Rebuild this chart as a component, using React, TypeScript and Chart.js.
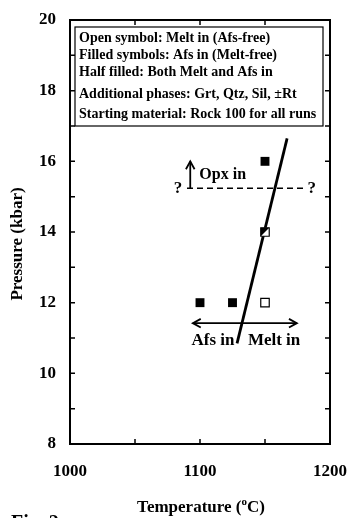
import React, { useEffect, useRef } from "react";
import { Chart, registerables } from "chart.js";

Chart.register(...registerables);

// ---- data ----
const xMin = 1000;
const xMax = 1200;
const yMin = 8;
const yMax = 20;
const xTickStep = 100;
const yTickStep = 2;
const xInnerTicks = [1050, 1100, 1150];
const yInnerTicks = [9, 10, 11, 12, 13, 14, 15, 16, 17, 18, 19];

// Filled symbols: Afs in (Melt-free)
const afsT = [1100, 1125, 1150];
const afsP = [12, 12, 16];
// Open symbol: Melt in (Afs-free)
const meltT = [1150];
const meltP = [12];
// Half filled: both
const bothT = [1150];
const bothP = [14];

// Afs-out / melt-in boundary
const boundaryT = [1128.5, 1167];
const boundaryP = [10.85, 16.65];
// Opx-in (dashed)
const opxT = [1090, 1181];
const opxP = [15.24, 15.24];
// Opx arrow (vertical)
const opxArrowT = [1092.5, 1092.5];
const opxArrowP = [15.24, 16.0];
// Afs / Melt double arrow
const fieldArrowT = [1094.5, 1174.5];
const fieldArrowP = [11.42, 11.42];

const legendLines = [
  "Open symbol: Melt in (Afs-free)",
  "Filled symbols: Afs in (Melt-free)",
  "Half filled: Both Melt and Afs in",
  "Additional phases: Grt, Qtz, Sil, \u00b1Rt",
  "Starting material: Rock 100 for all runs",
];

const labelTexts = ["Opx in", "Afs in", "Melt in", "?", "?"];
const labelT = [1099.5, 1110, 1157, 1083, 1186];
const labelP = [15.61, 10.92, 10.92, 15.22, 15.22];
const labelAlign: CanvasTextAlign[] = ["left", "center", "center", "center", "center"];

const FONT = "'Liberation Serif', 'Times New Roman', serif";

function pts(xs: number[], ys: number[]) {
  return xs.map((x, i) => ({ x, y: ys[i] }));
}

export default function App() {
  const ref = useRef<HTMLCanvasElement | null>(null);

  useEffect(() => {
    const canvas = ref.current;
    if (!canvas) return;

    const decor = {
      id: "decor",
      afterDatasetsDraw(chart: any) {
        const ctx = chart.ctx as CanvasRenderingContext2D;
        const xs = chart.scales.x;
        const ys = chart.scales.y;
        // half-filled symbol
        const meta = chart.getDatasetMeta(2);
        meta.data.forEach((el: any) => {
          const s = 6 * Math.SQRT1_2;
          ctx.save();
          ctx.fillStyle = "#000";
          ctx.beginPath();
          ctx.moveTo(el.x - s, el.y - s);
          ctx.lineTo(el.x + s, el.y - s);
          ctx.lineTo(el.x - s, el.y + s);
          ctx.closePath();
          ctx.fill();
          ctx.restore();
        });

        const arrowHead = (x: number, y: number, ang: number) => {
          const L = 9;
          const a = 0.5;
          ctx.beginPath();
          ctx.moveTo(x - L * Math.cos(ang - a), y - L * Math.sin(ang - a));
          ctx.lineTo(x, y);
          ctx.lineTo(x - L * Math.cos(ang + a), y - L * Math.sin(ang + a));
          ctx.stroke();
        };

        ctx.save();
        ctx.strokeStyle = "#000";
        ctx.lineWidth = 1.8;
        // Opx arrow
        const ox = xs.getPixelForValue(opxArrowT[0]);
        const oy0 = ys.getPixelForValue(opxArrowP[0]);
        const oy1 = ys.getPixelForValue(opxArrowP[1]);
        ctx.beginPath();
        ctx.moveTo(ox, oy0);
        ctx.lineTo(ox, oy1);
        ctx.stroke();
        arrowHead(ox, oy1, -Math.PI / 2);
        // double arrow
        const fx0 = xs.getPixelForValue(fieldArrowT[0]);
        const fx1 = xs.getPixelForValue(fieldArrowT[1]);
        const fy = ys.getPixelForValue(fieldArrowP[0]);
        ctx.beginPath();
        ctx.moveTo(fx0, fy);
        ctx.lineTo(fx1, fy);
        ctx.stroke();
        arrowHead(fx1, fy, 0);
        arrowHead(fx0, fy, Math.PI);

        // labels
        ctx.fillStyle = "#000";
        ctx.textBaseline = "middle";
        labelTexts.forEach((t, i) => {
          ctx.font = `bold ${i === 0 ? 16 : 17}px ${FONT}`;
          ctx.textAlign = labelAlign[i];
          ctx.fillText(t, xs.getPixelForValue(labelT[i]), ys.getPixelForValue(labelP[i]));
        });
        ctx.restore();
      },
      afterDraw(chart: any) {
        const ctx = chart.ctx as CanvasRenderingContext2D;
        const a = chart.chartArea;
        const xs = chart.scales.x;
        const ys = chart.scales.y;
        ctx.save();
        ctx.strokeStyle = "#000";
        ctx.fillStyle = "#000";
        // frame
        ctx.lineWidth = 2;
        ctx.strokeRect(a.left, a.top, a.right - a.left, a.bottom - a.top);
        // inward ticks
        ctx.lineWidth = 1.5;
        const tl = 5;
        ctx.beginPath();
        xInnerTicks.forEach((v) => {
          const px = xs.getPixelForValue(v);
          ctx.moveTo(px, a.bottom);
          ctx.lineTo(px, a.bottom - tl);
          ctx.moveTo(px, a.top);
          ctx.lineTo(px, a.top + tl);
        });
        yInnerTicks.forEach((v) => {
          const py = ys.getPixelForValue(v);
          ctx.moveTo(a.left, py);
          ctx.lineTo(a.left + tl, py);
          ctx.moveTo(a.right, py);
          ctx.lineTo(a.right - tl, py);
        });
        ctx.stroke();

        // legend box
        const bx = a.left + 5;
        const by = a.top + 7;
        const bw = 248;
        const bh = 99;
        ctx.fillStyle = "#fff";
        ctx.fillRect(bx, by, bw, bh);
        ctx.lineWidth = 1.2;
        ctx.strokeRect(bx, by, bw, bh);
        ctx.fillStyle = "#000";
        ctx.font = `bold 14px ${FONT}`;
        ctx.textAlign = "left";
        ctx.textBaseline = "alphabetic";
        const baselines = [22, 39, 56, 78, 98];
        legendLines.forEach((t, i) => {
          ctx.fillText(t, bx + 4, a.top + baselines[i]);
        });

        // x title with superscript
        const p1 = "Temperature (";
        const p2 = "o";
        const p3 = "C)";
        ctx.font = `bold 17px ${FONT}`;
        const w1 = ctx.measureText(p1).width;
        const w3 = ctx.measureText(p3).width;
        ctx.font = `bold 11px ${FONT}`;
        const w2 = ctx.measureText(p2).width;
        const total = w1 + w2 + w3;
        const cx = (a.left + a.right) / 2 + 1;
        const x0 = cx - total / 2;
        const base = 512;
        ctx.font = `bold 17px ${FONT}`;
        ctx.fillText(p1, x0, base);
        ctx.font = `bold 11px ${FONT}`;
        ctx.fillText(p2, x0 + w1, base - 7);
        ctx.font = `bold 17px ${FONT}`;
        ctx.fillText(p3, x0 + w1 + w2, base);

        // y title
        ctx.save();
        ctx.translate(18, 244);
        ctx.rotate(-Math.PI / 2);
        ctx.textAlign = "center";
        ctx.textBaseline = "middle";
        ctx.font = `bold 17px ${FONT}`;
        ctx.fillText("Pressure (kbar)", 0, 0);
        ctx.restore();

        // figure label (cut off at bottom)
        ctx.font = `bold 20px ${FONT}`;
        ctx.textAlign = "left";
        ctx.textBaseline = "alphabetic";
        ctx.fillText("Fig. 2", 11, 529);
        ctx.restore();
      },
    };

    const chart = new Chart(canvas, {
      type: "scatter",
      data: {
        datasets: [
          {
            label: "Afs in",
            data: pts(afsT, afsP),
            pointStyle: "rect",
            pointRadius: 6.3,
            backgroundColor: "#000",
            borderColor: "#000",
            borderWidth: 0,
          },
          {
            label: "Melt in",
            data: pts(meltT, meltP),
            pointStyle: "rect",
            pointRadius: 6,
            backgroundColor: "#fff",
            borderColor: "#000",
            borderWidth: 1.2,
          },
          {
            label: "Both",
            data: pts(bothT, bothP),
            pointStyle: "rect",
            pointRadius: 6,
            backgroundColor: "#fff",
            borderColor: "#000",
            borderWidth: 1.2,
          },
          {
            label: "Boundary",
            data: pts(boundaryT, boundaryP),
            showLine: true,
            pointRadius: 0,
            borderColor: "#000",
            borderWidth: 2.8,
          },
          {
            label: "Opx in",
            data: pts(opxT, opxP),
            showLine: true,
            pointRadius: 0,
            borderColor: "#000",
            borderWidth: 1.5,
            borderDash: [6, 4],
          },
        ],
      },
      options: {
        responsive: false,
        animation: false,
        events: [],
        layout: { padding: { top: 20, right: 17, left: 0, bottom: 0 } },
        plugins: {
          legend: { display: false },
          tooltip: { enabled: false },
        },
        scales: {
          x: {
            type: "linear",
            min: xMin,
            max: xMax,
            afterFit: (s: any) => {
              s.height = 74;
              s.paddingLeft = 0;
              s.paddingRight = 0;
            },
            grid: { display: false, drawTicks: false },
            border: { display: false },
            ticks: {
              stepSize: xTickStep,
              padding: 17,
              color: "#000",
              font: { family: FONT, size: 17, weight: "bold" },
              callback: (v: any) => String(v),
            },
          },
          y: {
            type: "linear",
            min: yMin,
            max: yMax,
            afterFit: (s: any) => {
              s.width = 70;
              s.paddingTop = 0;
              s.paddingBottom = 0;
            },
            grid: { display: false, drawTicks: false },
            border: { display: false },
            ticks: {
              stepSize: yTickStep,
              padding: 14,
              color: "#000",
              font: { family: FONT, size: 17, weight: "bold" },
              callback: (v: any) => String(v),
            },
          },
        },
      },
      plugins: [decor],
    } as any);

    return () => chart.destroy();
  }, []);

  return (
    <div style={{ position: "fixed", left: 0, top: 0, width: 347, height: 518, background: "#fff" }}>
      <canvas ref={ref} width={347} height={518} style={{ width: 347, height: 518, display: "block" }} />
    </div>
  );
}
